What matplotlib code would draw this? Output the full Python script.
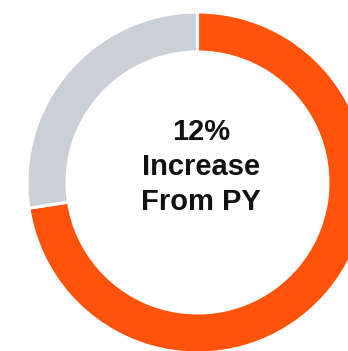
import matplotlib
matplotlib.use("Agg")
import matplotlib.pyplot as plt

# share of the ring: current period vs remainder
labels = ["Current", "Remainder"]
values = [72.6, 27.4]
colors = ["#FF520A", "#CBD0D7"]
center_text = "12%\nIncrease\nFrom PY"

W, H = 348, 351
fig = plt.figure(figsize=(W / 100, H / 100), dpi=100)
ax = fig.add_axes([0, 0, 1, 1])

cx, cy = 197.5, H - 182.5
outer = 170.5
width = 40.0

ax.pie(
    values,
    colors=colors,
    startangle=90,
    counterclock=False,
    center=(cx, cy),
    radius=outer,
    wedgeprops=dict(width=width, edgecolor="white", linewidth=2.2),
)

ax.text(
    201, H - 167, center_text,
    ha="center", va="center", fontsize=21, fontweight="bold",
    family=["Liberation Sans", "DejaVu Sans"], linespacing=1.34, color="#111111",
)

ax.set_xlim(0, W)
ax.set_ylim(0, H)
ax.set_aspect("auto")
ax.axis("off")

fig.savefig("out.png", dpi=100)
